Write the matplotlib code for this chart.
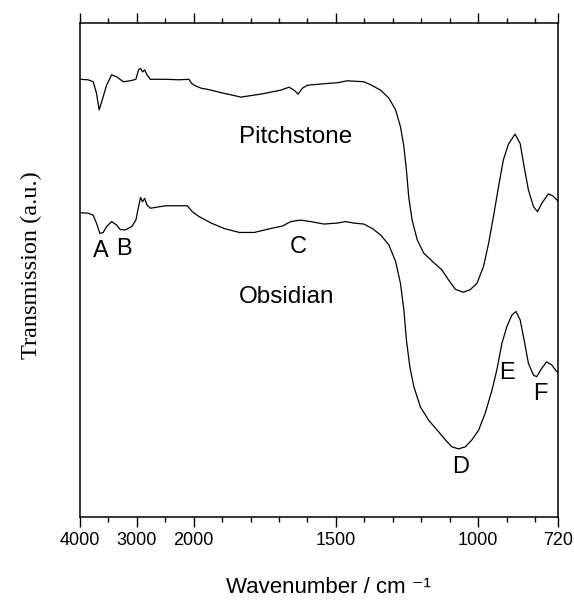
import numpy as np
import matplotlib
matplotlib.use('Agg')
import matplotlib.pyplot as plt

# FTIR spectra (wavenumber in cm-1, transmission in a.u.)
pitch_wn = [4000, 3858, 3769, 3711, 3663, 3610, 3533, 3444, 3356, 3237,
            3118, 3018, 2971, 2935, 2900, 2864, 2823, 2763, 2497, 2261,
            2083, 2047, 1999, 1974, 1946, 1904, 1834, 1764, 1694, 1665,
            1647, 1633, 1618, 1600, 1542, 1495, 1460, 1402, 1378, 1343,
            1314, 1290, 1273, 1261, 1252, 1244, 1232, 1214, 1191, 1156,
            1127, 1104, 1080, 1053, 1028, 1004, 981, 963, 946, 928,
            911, 893, 870, 852, 838, 823, 805, 791, 776, 753,
            737, 723, 720]
pitch_t = [88.6, 88.5, 88.1, 85.8, 82.4, 84.4, 87.4, 89.5, 89.1, 88.1,
           88.3, 88.6, 90.5, 90.8, 90.1, 90.5, 89.5, 88.6, 88.6, 88.5,
           88.6, 87.9, 87.4, 86.8, 86.5, 85.9, 85.0, 85.6, 86.4, 87.0,
           86.4, 85.6, 86.8, 87.4, 87.7, 87.9, 88.3, 88.1, 87.5, 86.4,
           84.8, 82.4, 79.0, 75.0, 70.2, 64.8, 60.1, 56.1, 53.4, 51.5,
           50.0, 48.0, 46.1, 45.5, 46.0, 47.3, 50.7, 55.4, 60.8, 66.9,
           72.3, 75.5, 77.5, 75.6, 70.9, 66.2, 62.8, 61.8, 63.5, 65.4,
           65.0, 64.2, 64.0]

obs_wn = [4000, 3858, 3769, 3711, 3650, 3592, 3533, 3444, 3356, 3295,
          3207, 3089, 3018, 2971, 2935, 2900, 2864, 2823, 2763, 2497,
          2261, 2113, 2025, 1981, 1939, 1893, 1840, 1787, 1729, 1688,
          1659, 1624, 1589, 1542, 1495, 1466, 1437, 1402, 1372, 1343,
          1314, 1290, 1273, 1261, 1252, 1240, 1226, 1203, 1174, 1144,
          1115, 1092, 1069, 1045, 1022, 998, 975, 951, 934, 916,
          899, 881, 867, 852, 838, 823, 805, 794, 776, 759,
          741, 726, 720]
obs_t = [61.6, 61.5, 61.1, 59.5, 57.4, 57.6, 58.8, 59.8, 59.1, 58.2,
         58.1, 58.8, 60.1, 62.8, 64.7, 63.8, 64.5, 63.2, 62.5, 63.0,
         63.0, 63.0, 61.8, 60.8, 59.5, 58.4, 57.6, 57.6, 58.4, 58.9,
         59.8, 60.1, 59.8, 59.3, 59.5, 59.8, 59.5, 59.3, 58.4, 57.1,
         55.1, 51.7, 47.3, 41.9, 35.8, 30.4, 26.4, 22.3, 19.6, 17.6,
         15.6, 14.2, 13.8, 14.2, 15.6, 17.6, 21.0, 25.7, 29.8, 35.2,
         38.5, 40.9, 41.6, 39.9, 35.8, 31.1, 28.7, 28.4, 30.1, 31.4,
         30.8, 29.6, 29.3]

peak_names = ['A', 'B', 'C', 'D', 'E', 'F']
peak_wn = [3636, 3231, 1632, 1060, 899, 782]
peak_t = [53.8, 54.3, 54.7, 10.2, 29.1, 25.0]

major_ticks = [4000, 3000, 2000, 1500, 1000, 720]
major_labels = ['4000', '3000', '2000', '1500', '1000', '720']
minor_ticks = [3500, 2500, 1900, 1800, 1700, 1600, 1400, 1300, 1200, 1100, 900, 800]


# axis is compressed 5x above 2000 cm-1
def fwd(x):
    x = np.asarray(x, dtype=float)
    return np.where(x >= 2000, x, 5 * x - 8000)


def inv(p):
    p = np.asarray(p, dtype=float)
    return np.where(p >= 2000, p, (p + 8000) / 5)


def main():
    plt.rcParams['font.family'] = ['Liberation Sans', 'DejaVu Sans']
    fig = plt.figure(figsize=(5.74, 6.03), dpi=100)
    ax = fig.add_axes([0.1394, 0.1426, 0.8322, 0.8193])
    ax.set_xscale('function', functions=(fwd, inv))

    ax.plot(pitch_wn, pitch_t, color='black', lw=0.9)
    ax.plot(obs_wn, obs_t, color='black', lw=0.9)

    ax.set_xlim(4000, 720)
    ax.set_ylim(0, 100)

    ax.text(1841, 76.9, 'Pitchstone', fontsize=17.5, ha='left', va='center')
    ax.text(1841, 44.5, 'Obsidian', fontsize=17.5, ha='left', va='center')
    for n, w, t in zip(peak_names, peak_wn, peak_t):
        ax.text(w, t, n, fontsize=17, ha='center', va='center')

    ax.set_xticks(major_ticks)
    ax.set_xticklabels(major_labels, fontsize=13)
    ax.set_xticks(minor_ticks, minor=True)
    ax.xaxis.set_minor_formatter(matplotlib.ticker.NullFormatter())
    ax.tick_params(axis='x', which='both', direction='out', top=True,
                   bottom=True, width=1.0, pad=4)
    ax.tick_params(axis='x', which='major', length=7)
    ax.tick_params(axis='x', which='minor', length=3.5)
    ax.set_yticks([])
    for s in ax.spines.values():
        s.set_linewidth(1.1)

    ax.set_xlabel('Wavenumber / cm ⁻¹', fontsize=16)
    ax.xaxis.set_label_coords(0.52, -0.122)
    ax.set_ylabel('Transmission (a.u.)', fontsize=17.5, family='Liberation Serif')
    ax.yaxis.set_label_coords(-0.08, 0.51)

    fig.savefig('out.png', dpi=100)


if __name__ == '__main__':
    main()
